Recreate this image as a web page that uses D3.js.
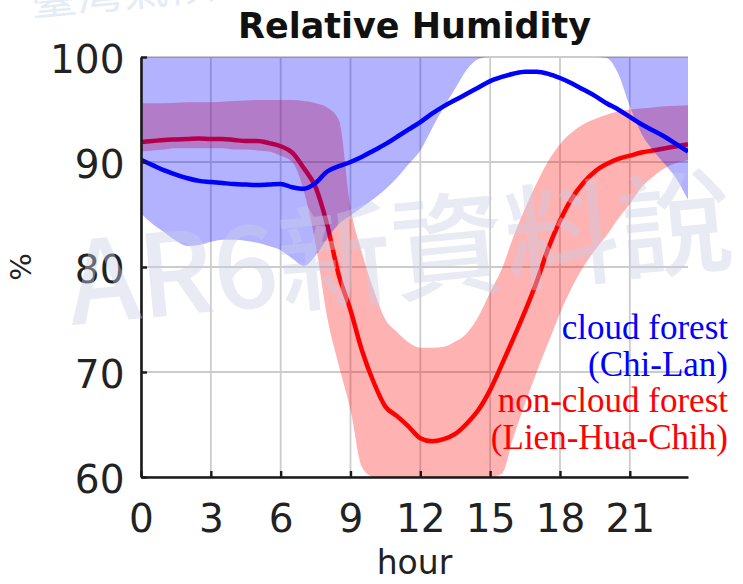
<!DOCTYPE html>
<html>
<head>
<meta charset="utf-8">
<script src="https://cdn.jsdelivr.net/npm/d3@7"></script>
<style>
  body { margin: 0; background: #fff; }
  svg { display: block; }
</style>
</head>
<body>
<svg id="chart" width="743" height="584"></svg>
<script>
// Diurnal cycle of relative humidity (%), half-hourly
const hours = [0, 0.5, 1, 1.5, 2, 2.5, 3, 3.5, 4, 4.5, 5, 5.5, 6, 6.5, 7, 7.5,
  8, 8.5, 9, 9.5, 10, 10.5, 11, 11.5, 12, 12.5, 13, 13.5, 14, 14.5, 15, 15.5,
  16, 16.5, 17, 17.5, 18, 18.5, 19, 19.5, 20, 20.5, 21, 21.5, 22, 22.5, 23, 23.5];

// cloud forest (Chi-Lan)
const cloudMean = [90.2, 89.7, 89.2, 88.8, 88.45, 88.2, 88.1, 88.0, 87.9, 87.85, 87.8, 87.85,
  87.9, 87.6, 87.45, 88.0, 89.1, 89.6, 90.0, 90.5, 91.1, 91.7, 92.4, 93.1,
  93.8, 94.6, 95.3, 95.9, 96.5, 97.1, 97.7, 98.1, 98.4, 98.6, 98.6, 98.4,
  98.0, 97.5, 96.9, 96.3, 95.6, 95.0, 94.3, 93.6, 93.0, 92.4, 91.7, 91.0];
const cloudLow = [85.1, 84.1, 83.3, 82.5, 82.0, 82.1, 82.4, 82.6, 82.6, 82.5, 82.3, 82.0,
  81.6, 80.8, 80.1, 81.1, 82.7, 84.1, 84.9, 85.7, 86.5, 87.4, 88.5, 89.8,
  91.1, 93.2, 95.2, 97.0, 98.8, 99.8, 100, 100, 100, 100, 100, 100,
  100, 100, 100, 100, 99.9, 98.4, 95.3, 92.7, 91.1, 89.8, 88.4, 86.4];
const cloudHigh = [100, 100, 100, 100, 100, 100, 100, 100, 100, 100, 100, 100,
  100, 100, 100, 100, 100, 100, 100, 100, 100, 100, 100, 100,
  100, 100, 100, 100, 100, 100, 100, 100, 100, 100, 100, 100,
  100, 100, 100, 100, 100, 100, 100, 100, 100, 100, 100, 100];

// non-cloud forest (Lien-Hua-Chih)
const nonCloudMean = [91.9, 92.0, 92.1, 92.15, 92.2, 92.25, 92.2, 92.2, 92.1, 92.0, 92.0, 91.8,
  91.5, 90.9, 89.4, 87.6, 84.0, 79.2, 75.9, 72.0, 69.0, 66.7, 65.8, 64.8,
  63.7, 63.4, 63.6, 64.1, 65.1, 66.4, 68.3, 70.7, 73.2, 75.8, 78.6, 81.8,
  84.4, 86.5, 88.0, 89.1, 89.8, 90.3, 90.6, 90.9, 91.1, 91.3, 91.5, 91.7];
const nonCloudLow = [91.0, 91.1, 91.2, 91.3, 91.3, 91.3, 91.3, 91.3, 91.2, 91.2, 91.1, 91.0,
  90.6, 90.0, 87.2, 82.2, 75.2, 70.6, 66.4, 60.9, 60, 60, 60, 60,
  60, 60, 60, 60, 60, 60, 60, 60.3, 63.8, 67.0, 70.0, 72.8,
  75.6, 78.0, 80.0, 81.6, 83.0, 84.6, 86.0, 87.6, 88.6, 89.4, 89.9, 90.2];
const nonCloudHigh = [95.6, 95.6, 95.6, 95.65, 95.7, 95.7, 95.7, 95.75, 95.8, 95.85, 95.9, 95.9,
  95.9, 95.9, 95.8, 95.6, 95.2, 94.0, 85.7, 81.3, 77.8, 75.0, 73.8, 72.8,
  72.3, 72.3, 72.4, 72.9, 73.7, 75.3, 77.6, 79.8, 82.9, 85.6, 88.0, 90.1,
  91.7, 92.8, 93.6, 94.1, 94.5, 94.8, 95.0, 95.1, 95.2, 95.3, 95.35, 95.4];

const xTicks = [0, 3, 6, 9, 12, 15, 18, 21];
const yTicks = [60, 70, 80, 90, 100];
const legendLines = [
  { text: "cloud forest", color: "#0000ff" },
  { text: "(Chi-Lan)", color: "#0000ff" },
  { text: "non-cloud forest", color: "#ff0000" },
  { text: "(Lien-Hua-Chih)", color: "#ff0000" }
];

const svg = d3.select("#chart");
const W = 743, H = 584;
const margin = { left: 141, right: 55, top: 57, bottom: 107 };
const plotW = W - margin.left - margin.right;
const plotH = H - margin.top - margin.bottom;

const x = d3.scaleLinear().domain([0, 23.5]).range([0, plotW]);
const y = d3.scaleLinear().domain([60, 100]).range([plotH, 0]);

const tickFont = "'DejaVu Sans', sans-serif";

svg.append("rect").attr("width", W).attr("height", H).attr("fill", "#fff");

const g = svg.append("g").attr("transform", `translate(${margin.left},${margin.top})`);

svg.append("defs").append("clipPath").attr("id", "plotClip")
  .append("rect").attr("x", 0).attr("y", 0).attr("width", plotW).attr("height", plotH);

// grid
const grid = g.append("g");
grid.selectAll("line.v").data(xTicks).join("line")
  .attr("x1", d => x(d)).attr("x2", d => x(d)).attr("y1", 0).attr("y2", plotH)
  .attr("stroke", "#cccccc").attr("stroke-width", 1.8);
grid.selectAll("line.h").data(yTicks).join("line")
  .attr("x1", 0).attr("x2", plotW).attr("y1", d => y(d)).attr("y2", d => y(d))
  .attr("stroke", "#cccccc").attr("stroke-width", 1.8);

const rows = hours.map((h, i) => ({
  h,
  cm: cloudMean[i], cl: cloudLow[i], ch: cloudHigh[i],
  nm: nonCloudMean[i], nl: nonCloudLow[i], nh: nonCloudHigh[i]
}));

const curve = d3.curveMonotoneX;
const data = g.append("g").attr("clip-path", "url(#plotClip)");

// non-cloud forest band + mean
data.append("path").datum(rows)
  .attr("d", d3.area().curve(curve).x(d => x(d.h)).y0(d => y(d.nl)).y1(d => y(d.nh)))
  .attr("fill", "#ff0000").attr("fill-opacity", 0.3);
data.append("path").datum(rows)
  .attr("d", d3.line().curve(curve).x(d => x(d.h)).y(d => y(d.nm)))
  .attr("fill", "none").attr("stroke", "#ff0000").attr("stroke-width", 4.5)
  .attr("stroke-linejoin", "round");

// cloud forest band + mean
data.append("path").datum(rows)
  .attr("d", d3.area().curve(curve).x(d => x(d.h)).y0(d => y(d.cl)).y1(d => y(d.ch)))
  .attr("fill", "#0000ff").attr("fill-opacity", 0.3);
data.append("path").datum(rows)
  .attr("d", d3.line().curve(curve).x(d => x(d.h)).y(d => y(d.cm)))
  .attr("fill", "none").attr("stroke", "#0000ff").attr("stroke-width", 4.5)
  .attr("stroke-linejoin", "round");

// axes (ticks point inward)
const yAxis = g.append("g")
  .call(d3.axisLeft(y).tickValues(yTicks).tickSizeInner(-6).tickSizeOuter(0).tickPadding(16.5));
const xAxis = g.append("g").attr("transform", `translate(0,${plotH})`)
  .call(d3.axisBottom(x).tickValues(xTicks).tickSizeInner(-6).tickSizeOuter(0).tickPadding(27));
[yAxis, xAxis].forEach(ax => {
  ax.select(".domain").attr("stroke", "#1a1a1a").attr("stroke-width", 2.6);
  ax.selectAll(".tick line").attr("stroke", "#1a1a1a").attr("stroke-width", 2.4);
  ax.selectAll(".tick text").attr("font-family", tickFont).attr("font-size", 39)
    .attr("fill", "#222");
});
yAxis.selectAll(".tick text").attr("dy", "0.4em");

// title and axis labels
svg.append("text").attr("x", margin.left + plotW / 2).attr("y", 38)
  .attr("text-anchor", "middle").attr("font-family", tickFont).attr("font-weight", "bold")
  .attr("font-size", 35).attr("fill", "#111").text("Relative Humidity");
svg.append("text").attr("x", margin.left + plotW / 2).attr("y", 574)
  .attr("text-anchor", "middle").attr("font-family", tickFont)
  .attr("font-size", 33).attr("fill", "#222").text("hour");
svg.append("text").attr("transform", "translate(31,267) rotate(-90)")
  .attr("text-anchor", "middle").attr("font-family", tickFont)
  .attr("font-size", 29).attr("fill", "#222").text("%");

// legend
svg.append("g").selectAll("text").data(legendLines).join("text")
  .attr("x", 728).attr("y", (d, i) => 339 + i * 36.5)
  .attr("text-anchor", "end").attr("font-family", "'Liberation Serif', serif")
  .attr("font-size", 35).attr("fill", d => d.color).text(d => d.text);

// watermark
svg.append("text").attr("transform", "translate(72,325) rotate(-5.5)")
  .attr("font-family", "'Noto Sans CJK TC', sans-serif").attr("font-weight", 500)
  .attr("font-size", 114).attr("fill", "rgb(200,206,228)").attr("fill-opacity", 0.42)
  .text("AR6新資料說");
svg.append("text").attr("transform", "translate(32,16) rotate(-5.5)")
  .attr("font-family", "'Noto Sans CJK TC', sans-serif")
  .attr("font-size", 46).attr("fill", "rgb(205,220,238)").attr("fill-opacity", 0.55)
  .text("臺灣氣候");
</script>
</body>
</html>
